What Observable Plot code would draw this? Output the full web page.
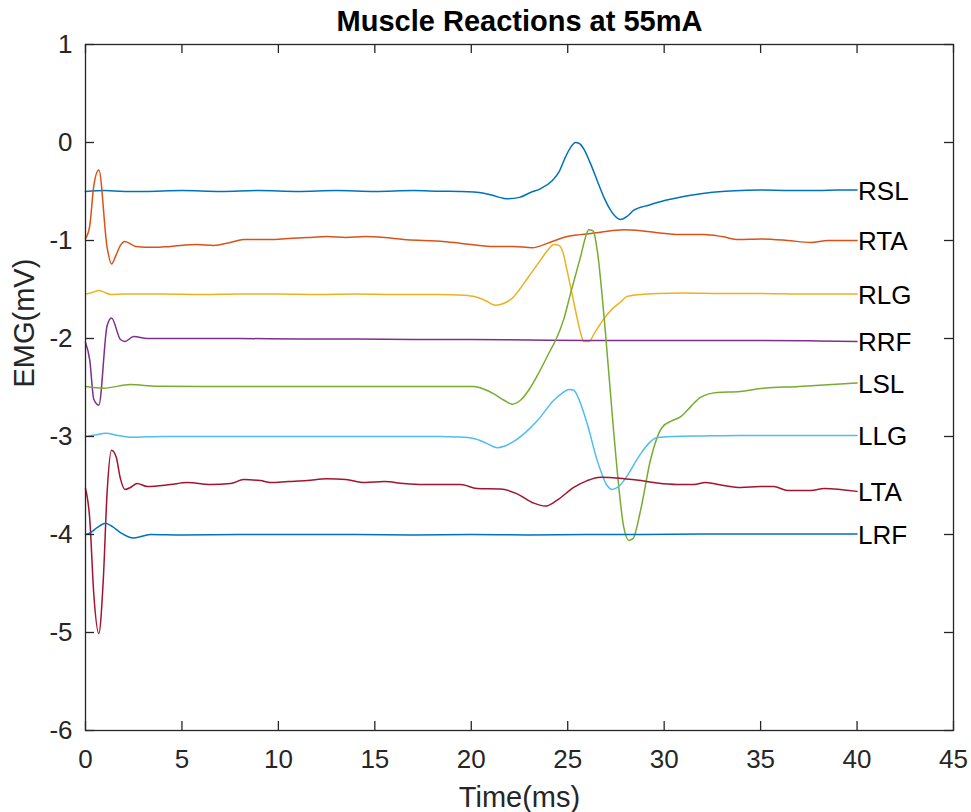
<!DOCTYPE html>
<html>
<head>
<meta charset="utf-8">
<script src="https://cdn.jsdelivr.net/npm/d3@7"></script>
<script src="https://cdn.jsdelivr.net/npm/@observablehq/plot@0.6"></script>
<style>
  body { margin: 0; background: #fff; }
  #chart svg { display: block; }
</style>
</head>
<body>
<div id="chart"></div>
<script>
// ---------- data ----------
const chartTitle = "Muscle Reactions at 55mA";
const xLabel = "Time(ms)";
const yLabel = "EMG(mV)";
const xTicks = [0, 5, 10, 15, 20, 25, 30, 35, 40, 45];
const yTicks = [-6, -5, -4, -3, -2, -1, 0, 1];
const seriesNames = ["RSL", "RTA", "RLG", "RRF", "LSL", "LLG", "LTA", "LRF"];
const seriesColors = ["#0072BD", "#D95319", "#EDB120", "#7E2F8E", "#77AC30", "#4DBEEE", "#A2142F", "#0072BD"];

const tRSL = [0, 1, 2, 3, 5, 7, 9, 11, 13, 15, 17, 18.4, 19.5, 20.65, 21.3, 21.86, 22.5, 23.07, 23.6, 24.19, 24.55, 24.88, 25.15, 25.4, 25.6, 25.83, 26.15, 26.53, 26.9, 27.22, 27.45, 27.74, 28.1, 28.43, 29.2, 30.07, 31, 32, 33, 34, 35, 36.5, 38, 39, 40];
const vRSL = [-0.5, -0.49, -0.5, -0.5, -0.49, -0.5, -0.49, -0.5, -0.49, -0.5, -0.49, -0.497, -0.5, -0.517, -0.55, -0.575, -0.56, -0.51, -0.47, -0.39, -0.3, -0.15, -0.05, 0.0, -0.01, -0.065, -0.2, -0.39, -0.57, -0.69, -0.75, -0.786, -0.75, -0.69, -0.64, -0.59, -0.55, -0.52, -0.5, -0.49, -0.485, -0.49, -0.49, -0.485, -0.485];

const tRTA = [0, 0.22, 0.43, 0.69, 1.12, 1.35, 1.56, 1.81, 2.04, 2.6, 3.54, 4.4, 5.79, 6.65, 7.5, 8.2, 9.6, 10.5, 11.5, 12.5, 13.5, 14.5, 15.5, 16.5, 17.5, 18.4, 19.5, 21.0, 22.2, 23.15, 24.1, 24.97, 25.66, 26.7, 27.9, 28.8, 29.64, 30.84, 32.05, 33.0, 33.87, 35.0, 36.4, 37.6, 38.5, 40];
const vRTA = [-0.98, -0.85, -0.44, -0.28, -1.07, -1.24, -1.16, -1.05, -1.01, -1.06, -1.07, -1.06, -1.04, -1.05, -1.02, -0.99, -0.99, -0.98, -0.97, -0.96, -0.97, -0.96, -0.97, -0.99, -1.0, -1.007, -1.03, -1.06, -1.06, -1.075, -1.017, -0.96, -0.94, -0.915, -0.89, -0.9, -0.92, -0.94, -0.94, -0.96, -0.99, -0.985, -1.0, -1.02, -1.0, -1.0];

const tRLG = [0, 0.35, 0.69, 1.0, 1.3, 2, 4, 6, 8, 10, 12, 14, 16, 18.4, 19.3, 20.1, 20.7, 21.25, 21.7, 22.12, 22.5, 22.9, 23.59, 24.0, 24.28, 24.54, 24.75, 24.97, 25.4, 25.65, 25.83, 26.1, 26.4, 26.87, 27.3, 27.73, 28.08, 28.8, 29.64, 31, 33, 35, 37, 40];
const vRLG = [-1.545, -1.53, -1.51, -1.53, -1.55, -1.545, -1.545, -1.55, -1.545, -1.545, -1.55, -1.545, -1.55, -1.55, -1.555, -1.57, -1.61, -1.66, -1.64, -1.59, -1.5, -1.39, -1.2, -1.09, -1.04, -1.05, -1.12, -1.31, -1.71, -1.93, -2.03, -2.03, -1.94, -1.8, -1.7, -1.63, -1.57, -1.55, -1.54, -1.535, -1.54, -1.54, -1.545, -1.545];

const tRRF = [0, 0.22, 0.43, 0.69, 1.12, 1.35, 1.81, 2.04, 2.5, 3.2, 5, 8, 11, 14, 17, 20, 23, 26, 29, 32, 35, 38, 40];
const vRRF = [-2.04, -2.22, -2.62, -2.68, -1.87, -1.79, -2.01, -2.03, -1.98, -2.0, -2.0, -2.0, -2.005, -2.005, -2.01, -2.01, -2.015, -2.02, -2.02, -2.02, -2.02, -2.025, -2.03];

const tLSL = [0, 0.95, 2.33, 3.7, 6, 9, 12, 15, 18.4, 20.13, 20.7, 21.17, 21.7, 22.12, 22.55, 23.0, 23.42, 24.1, 24.37, 24.8, 25.14, 25.66, 25.95, 26.09, 26.25, 26.35, 26.53, 26.96, 27.39, 27.91, 28.17, 28.39, 28.77, 29.29, 29.9, 30.4, 30.84, 31.4, 31.88, 32.75, 33.95, 35, 37, 40];
const vLSL = [-2.49, -2.507, -2.47, -2.487, -2.49, -2.49, -2.49, -2.49, -2.49, -2.49, -2.52, -2.565, -2.63, -2.67, -2.63, -2.52, -2.38, -2.12, -2.02, -1.8, -1.545, -1.17, -0.95, -0.89, -0.895, -0.915, -1.1, -1.95, -2.97, -3.93, -4.06, -4.04, -3.76, -3.24, -2.905, -2.84, -2.8, -2.69, -2.6, -2.55, -2.54, -2.51, -2.49, -2.455];

const tLLG = [0, 0.5, 1.04, 1.7, 2.42, 4, 7, 10, 13, 16, 18.4, 19.3, 20.13, 20.8, 21.34, 21.7, 22.12, 22.8, 23.42, 24.28, 24.7, 25.05, 25.3, 25.49, 26.01, 26.53, 27.04, 27.3, 27.48, 27.7, 27.91, 28.77, 29.2, 29.64, 30.5, 32, 33.95, 36, 38, 40];
const vLLG = [-3.0, -2.985, -2.966, -2.99, -3.007, -3.0, -3.0, -3.0, -3.0, -3.0, -3.0, -3.005, -3.02, -3.07, -3.115, -3.1, -3.06, -2.96, -2.84, -2.63, -2.56, -2.52, -2.525, -2.58, -2.87, -3.245, -3.5, -3.54, -3.53, -3.5, -3.45, -3.18, -3.07, -3.01, -3.0, -2.995, -2.99, -2.99, -2.99, -2.99];

const tLTA = [0, 0.22, 0.43, 0.69, 0.92, 1.12, 1.35, 1.59, 1.81, 2.04, 2.33, 2.68, 3.2, 4.4, 5.27, 6.48, 7.52, 8.2, 9.07, 9.59, 10.5, 11.5, 12.5, 13.5, 14.5, 15.5, 16.5, 17.5, 18.4, 19.44, 20.3, 21.51, 22.38, 23.24, 23.85, 24.45, 25.31, 26.01, 26.7, 27.91, 28.8, 29.64, 30.67, 31.54, 32.14, 33.09, 33.96, 34.99, 35.68, 36.4, 37.6, 38.3, 40];
const vLTA = [-3.53, -3.84, -4.61, -5.01, -4.47, -3.57, -3.14, -3.21, -3.43, -3.54, -3.52, -3.48, -3.51, -3.49, -3.47, -3.49, -3.48, -3.44, -3.45, -3.47, -3.46, -3.45, -3.43, -3.44, -3.47, -3.46, -3.48, -3.49, -3.49, -3.49, -3.53, -3.535, -3.585, -3.68, -3.71, -3.65, -3.52, -3.45, -3.415, -3.43, -3.45, -3.475, -3.49, -3.49, -3.47, -3.5, -3.52, -3.51, -3.51, -3.55, -3.55, -3.53, -3.56];

const tLRF = [0, 0.26, 0.6, 1.04, 1.4, 1.81, 2.5, 3.37, 5, 8, 11, 14, 17, 20, 23, 26, 29, 32, 35, 38, 40];
const vLRF = [-4.0, -3.98, -3.93, -3.885, -3.92, -3.98, -4.035, -4.0, -4.005, -4.0, -4.0, -4.0, -4.005, -4.0, -4.005, -4.0, -4.0, -3.995, -3.995, -3.995, -3.995];

// ---------- build tables ----------
const seriesTimes = [tRSL, tRTA, tRLG, tRRF, tLSL, tLLG, tLTA, tLRF];
const seriesValues = [vRSL, vRTA, vRLG, vRRF, vLSL, vLLG, vLTA, vLRF];
const rows = seriesNames.flatMap((name, k) =>
  seriesTimes[k].map((t, i) => ({name, t, v: seriesValues[k][i]})));
const ends = seriesNames.map((name, k) => ({
  name,
  t: seriesTimes[k][seriesTimes[k].length - 1],
  v: seriesValues[k][seriesValues[k].length - 1]
}));

// ---------- layout ----------
const W = 971, H = 812;
const mL = 85, mR = 18, mT = 44, mB = 82;
const frameW = W - mL - mR, frameH = H - mT - mB;
const tick = 9;
const ink = "#262626";
const font = "'Liberation Sans', Arial, Helvetica, sans-serif";

const chart = Plot.plot({
  width: W, height: H,
  marginLeft: mL, marginRight: mR, marginTop: mT, marginBottom: mB,
  style: {fontFamily: font, fontSize: "26px", color: ink, background: "#fff", overflow: "visible"},
  x: {domain: [0, 45], label: null},
  y: {domain: [-6, 1], label: null},
  color: {domain: seriesNames, range: seriesColors},
  marks: [
    Plot.line(rows, {x: "t", y: "v", z: "name", stroke: (d) => d.name, strokeWidth: 1.5, curve: "monotone-x"}),
    Plot.text(ends, {x: "t", y: "v", text: "name", textAnchor: "start", dx: 1, dy: 1.5, fill: "#000", fontSize: 26}),
    Plot.frame({stroke: ink, strokeWidth: 1.3}),
    // inward ticks on all four sides
    Plot.tickX(xTicks, {x: (d) => d, stroke: ink, strokeWidth: 1.3, insetTop: frameH - tick}),
    Plot.tickX(xTicks, {x: (d) => d, stroke: ink, strokeWidth: 1.3, insetBottom: frameH - tick}),
    Plot.tickY(yTicks, {y: (d) => d, stroke: ink, strokeWidth: 1.3, insetRight: frameW - tick}),
    Plot.tickY(yTicks, {y: (d) => d, stroke: ink, strokeWidth: 1.3, insetLeft: frameW - tick}),
    Plot.axisX({ticks: xTicks, tickSize: 0, tickPadding: 19, tickFormat: (d) => String(d), fontSize: 26, label: null}),
    Plot.axisY({ticks: yTicks, tickSize: 0, tickPadding: 13, tickFormat: (d) => String(d), fontSize: 26, label: null}),
    Plot.text([chartTitle], {text: (d) => d, frameAnchor: "top", dy: -23, lineAnchor: "middle", fontSize: 29, fontWeight: "bold", fill: "#000"}),
    Plot.text([xLabel], {text: (d) => d, frameAnchor: "bottom", dy: 67, lineAnchor: "middle", fontSize: 29, fill: ink}),
    Plot.text([yLabel], {text: (d) => d, frameAnchor: "left", dx: -61, rotate: -90, lineAnchor: "middle", fontSize: 29, fill: ink})
  ]
});
document.getElementById("chart").appendChild(chart);
</script>
</body>
</html>
